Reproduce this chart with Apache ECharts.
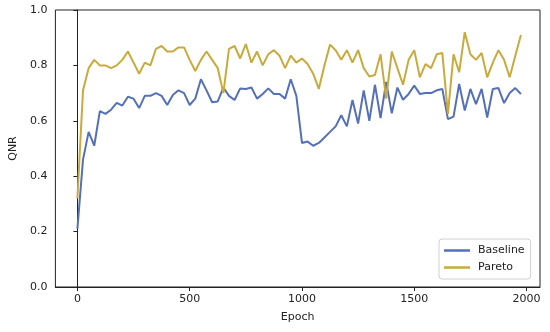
<!DOCTYPE html>
<html>
<head>
<meta charset="utf-8">
<script src="https://cdn.jsdelivr.net/npm/echarts@6/dist/echarts.min.js"></script>
<style>html,body{margin:0;padding:0;background:#fff}#c{width:550px;height:332px}</style>
</head>
<body>
<div id="c"></div>
<script>
const epochs = [0,25,50,75,100,125,150,175,200,225,250,275,300,325,350,375,400,425,450,475,
  500,525,550,575,600,625,650,675,700,725,750,775,800,825,850,875,900,925,950,975,
  1000,1025,1050,1075,1100,1125,1150,1175,1200,1225,1250,1275,1300,1325,1350,1375,1400,1425,1450,1475,
  1500,1525,1550,1575,1600,1625,1650,1675,1700,1725,1750,1775,1800,1825,1850,1875,1900,1925,1950,1975];
const baseline = [0.21,0.46,0.56,0.51,0.635,0.625,0.64,0.665,0.655,0.687,0.68,0.646,0.69,0.69,0.70,0.69,0.657,0.693,0.71,0.70,
  0.657,0.68,0.75,0.71,0.667,0.67,0.72,0.69,0.675,0.717,0.715,0.72,0.68,0.697,0.717,0.697,0.697,0.68,0.75,0.69,
  0.52,0.525,0.51,0.52,0.54,0.56,0.58,0.62,0.58,0.675,0.59,0.71,0.60,0.73,0.61,0.74,0.627,0.72,0.676,0.697,
  0.727,0.697,0.70,0.70,0.71,0.715,0.606,0.615,0.733,0.637,0.715,0.66,0.715,0.612,0.715,0.718,0.664,0.70,0.718,0.697];
const pareto = [0.32,0.71,0.79,0.82,0.80,0.80,0.79,0.80,0.82,0.85,0.81,0.77,0.81,0.80,0.86,0.87,0.85,0.85,0.865,0.865,
  0.82,0.78,0.82,0.85,0.82,0.79,0.70,0.86,0.87,0.825,0.877,0.81,0.85,0.80,0.84,0.855,0.835,0.79,0.835,0.81,
  0.825,0.805,0.77,0.715,0.80,0.875,0.855,0.82,0.855,0.81,0.855,0.79,0.76,0.765,0.84,0.68,0.85,0.79,0.73,0.82,
  0.855,0.757,0.805,0.79,0.84,0.845,0.625,0.84,0.775,0.92,0.84,0.82,0.845,0.757,0.81,0.855,0.82,0.757,0.835,0.91];
const xTicks = [0,500,1000,1500,2000];

const chart = echarts.init(document.getElementById('c'), null, {renderer:'canvas'});
const font = 'DejaVu Sans';
const pair = (xs, ys) => xs.map((x,i)=>[x, ys[i]]);
chart.setOption({
  animation:false,
  grid:{left:53,right:10,top:10,bottom:45,show:true,borderColor:'#222',borderWidth:1,backgroundColor:'#fff'},
  xAxis:{type:'value',min:-98,max:2060,interval:500,
    name:'Epoch',nameLocation:'middle',nameGap:25,
    nameTextStyle:{fontFamily:font,fontSize:11,color:'#222'},
    axisLine:{show:true,onZero:false,lineStyle:{color:'#222',width:1}},
    axisTick:{show:true,length:4,lineStyle:{color:'#222'},customValues:xTicks},
    axisLabel:{fontFamily:font,fontSize:11,color:'#222',margin:7,customValues:xTicks,formatter:v=>String(v)},
    splitLine:{show:false}},
  yAxis:{type:'value',min:0,max:1,interval:0.2,
    name:'QNR',nameLocation:'middle',nameGap:36,
    nameTextStyle:{fontFamily:font,fontSize:11,color:'#222'},
    axisLine:{show:true,lineStyle:{color:'#222',width:1}},
    axisTick:{show:true,length:4,lineStyle:{color:'#222'}},
    axisLabel:{fontFamily:font,fontSize:11,color:'#222',margin:8,formatter:v=>v.toFixed(1)},
    splitLine:{show:false}},
  legend:{orient:'vertical',left:439,top:239,
    backgroundColor:'#fff',borderColor:'#d0d0d0',borderWidth:1,borderRadius:3,
    padding:[6,6,6,5],itemGap:6,itemWidth:26,itemHeight:2.5,icon:'rect',
    textStyle:{fontFamily:font,fontSize:11,color:'#222',padding:[0,0,0,3]},
    data:['Baseline','Pareto']},
  series:[
    {name:'Baseline',type:'line',data:pair(epochs,baseline),showSymbol:false,
      lineStyle:{color:'#5470b8',width:2},itemStyle:{color:'#5470b8'}},
    {name:'Pareto',type:'line',data:pair(epochs,pareto),showSymbol:false,
      lineStyle:{color:'#c9aa3c',width:2},itemStyle:{color:'#c9aa3c'}}
  ]
});
</script>
</body>
</html>
